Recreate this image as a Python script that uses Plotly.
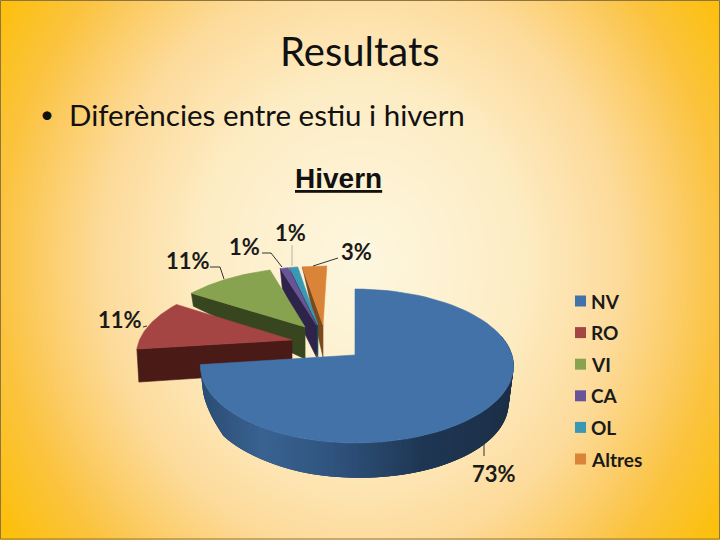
import base64, struct, zlib
import numpy as np
import plotly.graph_objects as go

# ---- data ----
categories = ["NV", "RO", "VI", "CA", "OL", "Altres"]
values = [73, 11, 11, 1, 1, 3]

# ---- styles ----
top_colors = ["#4272a8", "#a54543", "#87a34f", "#6a5497", "#3a98b4", "#d98439"]
side_colors = ["#2c4d74", "#4a1a16", "#37461f", "#2e2348", "#1d4a5a", "#7a4a1c"]
pull_u = [0, -0.413, -0.336, -0.26, -0.25, -0.216]
pull_v = [0, 0.205, 0.392, 0.42, 0.42, 0.42]
depth_outer = [34, 33, 13, 20, 12, 8]
DEPTH_APEX = 32
CX, CY, RX, RY, PERSP = 355, 355, 157, 75.4, 0.1429


def project(u, v):
    w = 1 + PERSP * np.asarray(v, float)
    return CX + RX * np.asarray(u, float) / w, CY - RY * np.asarray(v, float) / w


def background_uri(w=720, h=540):
    yy, xx = np.mgrid[0:h, 0:w]
    t = np.sqrt(((xx - 360) / 360.0) ** 2 + ((yy - 262) / 400.0) ** 2)
    stops = [0, 0.44, 0.72, 0.91, 1.0, 1.2]
    rgb = [(253, 247, 224), (253, 237, 197), (253, 219, 155), (252, 203, 96), (251, 196, 64), (253, 192, 10)]
    img = np.stack([np.interp(t, stops, [c[i] for c in rgb]) for i in range(3)], axis=-1).astype(np.uint8)
    raw = b"".join(b"\x00" + img[r].tobytes() for r in range(h))

    def chunk(tag, data):
        return struct.pack(">I", len(data)) + tag + data + struct.pack(">I", zlib.crc32(tag + data))

    png = (b"\x89PNG\r\n\x1a\n" + chunk(b"IHDR", struct.pack(">IIBBBBB", w, h, 8, 2, 0, 0, 0))
           + chunk(b"IDAT", zlib.compress(raw, 9)) + chunk(b"IEND", b""))
    return "data:image/png;base64," + base64.b64encode(png).decode()


def poly(xs, ys, color, width=0.6):
    return go.Scatter(x=list(xs), y=list(ys), mode="lines", fill="toself", fillcolor=color,
                      line=dict(color=color, width=width), hoverinfo="skip", showlegend=False)


fig = go.Figure()

fractions = np.array(values, float) / sum(values)
ends = np.cumsum(fractions) * 2 * np.pi
starts = ends - fractions * 2 * np.pi


def arc(i, a0=None, a1=None, n=80):
    a = np.linspace(starts[i] if a0 is None else a0, ends[i] if a1 is None else a1, n)
    xs, ys = project(np.sin(a) + pull_u[i], np.cos(a) + pull_v[i])
    if i == 0:  # the big slice's left side sits slightly closer in
        xs = np.where(xs < CX, CX + (xs - CX) * 0.975, xs)
    return xs, ys


# back to front: small slices, then VI, RO, and NV
for i in range(len(values) - 1, 0, -1):
    ax, ay = project(pull_u[i], pull_v[i])
    ox, oy = project(np.sin(starts[i]) + pull_u[i], np.cos(starts[i]) + pull_v[i])
    fig.add_trace(poly([float(ax), float(ox), float(ox) + 2, float(ax), float(ax)],
                       [float(ay), float(oy), float(oy) + depth_outer[i], float(ay) + DEPTH_APEX, float(ay)],
                       side_colors[i]))
    xs, ys = arc(i)
    fig.add_trace(poly([float(ax), *xs, float(ax)], [float(ay), *ys, float(ay)], top_colors[i]))

# NV rim, shaded in overlapping thin bands drawn left to right
edge_angles = np.linspace(ends[0], np.radians(75), 120)
rx_stops = [200, 260, 330, 420, 515]
rim_rgb = [(44, 77, 116), (58, 99, 146), (48, 84, 127), (31, 55, 84), (28, 47, 71)]
for k in range(len(edge_angles) - 1):
    a0 = edge_angles[k]
    a1 = edge_angles[min(k + 3, len(edge_angles) - 1)]
    xs, ys = arc(0, a0, a1, 6)
    depth = np.interp(xs, [200, 222, 300, 515], [18, 31, 34, 37])
    shrink = np.interp(xs, [200, 355, 515], [2, 0, -5])
    xm = float(xs[0])
    col = tuple(int(np.interp(xm, rx_stops, [c[j] for c in rim_rgb])) for j in range(3))
    color = "rgb(%d,%d,%d)" % col
    fig.add_trace(poly([*xs, *(xs + shrink)[::-1], xs[0]], [*ys, *(ys + depth)[::-1], ys[0]], color, 0))

xs, ys = arc(0)
ax, ay = project(0, 0)
fig.add_trace(poly([float(ax), *xs, float(ax)], [float(ay), *ys, float(ay)], top_colors[0]))

# leader lines
leaders = [([143, 147], [327, 326], "#333333"), ([210, 220, 224], [267, 267, 279], "#333333"),
           ([262, 271, 282], [253, 253, 267], "#333333"), ([292, 292], [245, 266], "#b8b4a0"),
           ([338, 313], [258, 266], "#333333"), ([484, 484], [443, 456], "#333333")]
for lx, ly, c in leaders:
    fig.add_trace(go.Scatter(x=lx, y=ly, mode="lines", line=dict(color=c, width=1),
                             hoverinfo="skip", showlegend=False))

# key: one swatch and name per category
for k, (name, color) in enumerate(zip(categories, top_colors)):
    row_y = 301 + 31.6 * k
    fig.add_trace(go.Scatter(x=[580.5], y=[row_y], mode="markers", name=name,
                             marker=dict(symbol="square", size=11, color=color),
                             hoverinfo="name", showlegend=False))
    fig.add_annotation(x=591, y=row_y, text=f"<b>{name}</b>", showarrow=False, xanchor="left", xshift=-2,
                       font=dict(family="Lato", size=19, color="#1a1a1a"))

# percent labels
label_x = [494, 120, 188, 244, 290, 356]
label_y = [473, 319, 260, 246, 232, 251]
for v, lx, ly in zip(values, label_x, label_y):
    fig.add_annotation(x=lx, y=ly, text=f"<b>{v}%</b>", showarrow=False,
                       font=dict(family="Lato", size=22, color="#1a1a1a"))

fig.add_annotation(x=360, y=51, text="Resultats", showarrow=False,
                   font=dict(family="Lato", size=40, color="#111111"))
fig.add_annotation(x=47, y=113, text="•", showarrow=False,
                   font=dict(family="Lato", size=24, color="#111111"))
fig.add_annotation(x=67, y=114, text="Diferències entre estiu i hivern", showarrow=False, xanchor="left",
                   font=dict(family="Lato", size=29.5, color="#111111"))
fig.add_annotation(x=338, y=178, text="<b>Hivern</b>", showarrow=False,
                   font=dict(family="Liberation Sans", size=28, color="#111111", lineposition="under"))

fig.update_layout(
    width=720, height=540, margin=dict(l=0, r=0, t=0, b=0), showlegend=False,
    paper_bgcolor="#fde9c0", plot_bgcolor="rgba(0,0,0,0)",
    xaxis=dict(range=[0, 720], visible=False, fixedrange=True),
    yaxis=dict(range=[540, 0], visible=False, fixedrange=True),
    images=[dict(source=background_uri(), xref="paper", yref="paper", x=0, y=1, sizex=1, sizey=1,
                 xanchor="left", yanchor="top", sizing="stretch", layer="below")],
    shapes=[dict(type="rect", x0=0.5, y0=0.5, x1=719.5, y1=539, line=dict(color="#8f7440", width=1))],
)

fig.write_html("out.html", config={"displayModeBar": False}, post_script="document.body.style.margin='0';")
